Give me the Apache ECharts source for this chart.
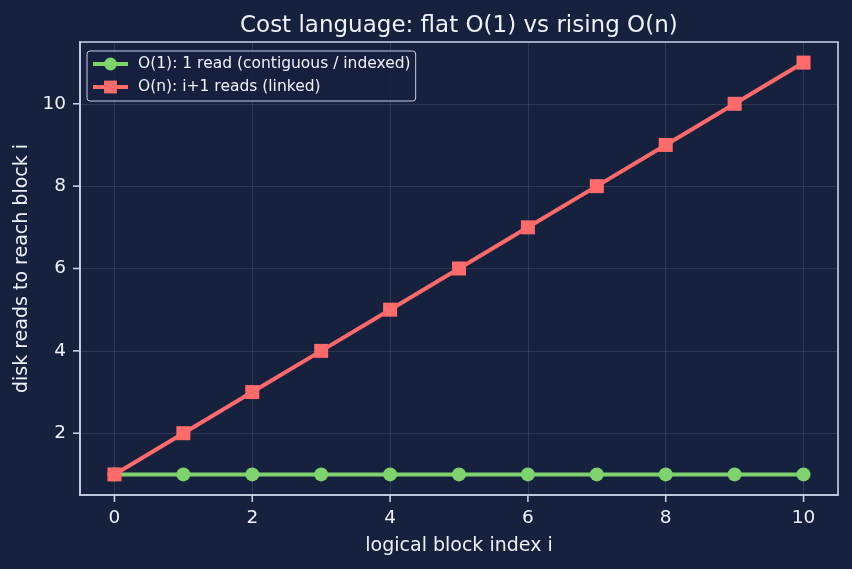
<!DOCTYPE html>
<html><head><meta charset="utf-8">
<script src="https://cdn.jsdelivr.net/npm/echarts@6/dist/echarts.min.js"></script>
<style>html,body{margin:0;padding:0;background:#16213e;}#c{width:852px;height:569px;}</style>
</head><body><div id="c"></div>
<script>
const blockIndex = [0,1,2,3,4,5,6,7,8,9,10];
const constReads = [1,1,1,1,1,1,1,1,1,1,1];
const linkedReads = [1,2,3,4,5,6,7,8,9,10,11];
const xTicks = [0,2,4,6,8,10];
const yTicks = [2,4,6,8,10];
const seriesNames = ['O(1): 1 read (contiguous / indexed)','O(n): i+1 reads (linked)'];
const xRange = [-0.5, 10.5];
const yRange = [0.5, 11.5];

const fg = '#eef1f7';
const spine = '#c8d0e4';
const gridC = 'rgba(200,210,230,0.17)';
const font = 'DejaVu Sans';
const TICK = 7;

function tickSeries(vals, isX){
  return {
    type:'custom', silent:true, clip:false, z:10, legendHoverLink:false,
    data: vals.map(v=>[v]),
    renderItem:function(params, api){
      const v = api.value(0);
      let p, shape;
      if(isX){ p = api.coord([v, yRange[0]]); shape = {x1:p[0],y1:p[1],x2:p[0],y2:p[1]+TICK}; }
      else { p = api.coord([xRange[0], v]); shape = {x1:p[0],y1:p[1],x2:p[0]-TICK,y2:p[1]}; }
      return {type:'line', shape:shape, style:{stroke:spine, lineWidth:1.6}};
    }
  };
}

const chart = echarts.init(document.getElementById('c'), null, {renderer:'canvas'});
chart.setOption({
  backgroundColor:'#16213e',
  animation:false,
  textStyle:{fontFamily:font},
  title:{text:'Cost language: flat O(1) vs rising O(n)',left:235,top:10,
    textStyle:{color:fg,fontSize:23,fontWeight:'normal',fontFamily:font}},
  grid:{left:80,right:14,top:42,bottom:74,show:true,borderColor:spine,borderWidth:1.6,backgroundColor:'transparent'},
  legend:{orient:'vertical',left:87,top:51,itemGap:7,itemWidth:35,itemHeight:16,
    padding:[5,5,6,4],backgroundColor:'rgba(22,33,62,0.8)',borderColor:spine,borderWidth:1,borderRadius:3,
    lineStyle:{width:4},
    textStyle:{color:fg,fontSize:15.5,fontFamily:font,padding:[0,0,0,5]},data:seriesNames},
  xAxis:{type:'value',min:xRange[0],max:xRange[1],
    name:'logical block index i',nameLocation:'middle',nameGap:42,
    nameTextStyle:{color:fg,fontSize:19,fontFamily:font},
    axisLine:{show:true,onZero:false,lineStyle:{color:spine,width:1.6}},
    axisTick:{show:false},
    axisLabel:{color:fg,fontSize:18.5,margin:14,customValues:xTicks,fontFamily:font},
    splitLine:{show:true,lineStyle:{color:gridC,width:0.8}}},
  yAxis:{type:'value',min:yRange[0],max:yRange[1],
    name:'disk reads to reach block i',nameLocation:'middle',nameGap:48,
    nameTextStyle:{color:fg,fontSize:19,fontFamily:font},
    axisLine:{show:true,onZero:false,lineStyle:{color:spine,width:1.6}},
    axisTick:{show:false},
    axisLabel:{color:fg,fontSize:18.5,margin:14,customValues:yTicks,fontFamily:font},
    splitLine:{show:true,lineStyle:{color:gridC,width:0.8}}},
  series:[
    {name:seriesNames[0],type:'line',data:blockIndex.map((x,i)=>[x,constReads[i]]),
      symbol:'circle',symbolSize:14,lineStyle:{color:'#7fd36e',width:4},itemStyle:{color:'#7fd36e'},z:2},
    {name:seriesNames[1],type:'line',data:blockIndex.map((x,i)=>[x,linkedReads[i]]),
      symbol:'rect',symbolSize:14,lineStyle:{color:'#ff6b6b',width:4},itemStyle:{color:'#ff6b6b'},z:3},
    tickSeries(xTicks, true),
    tickSeries(yTicks, false)
  ]
});
</script></body></html>
